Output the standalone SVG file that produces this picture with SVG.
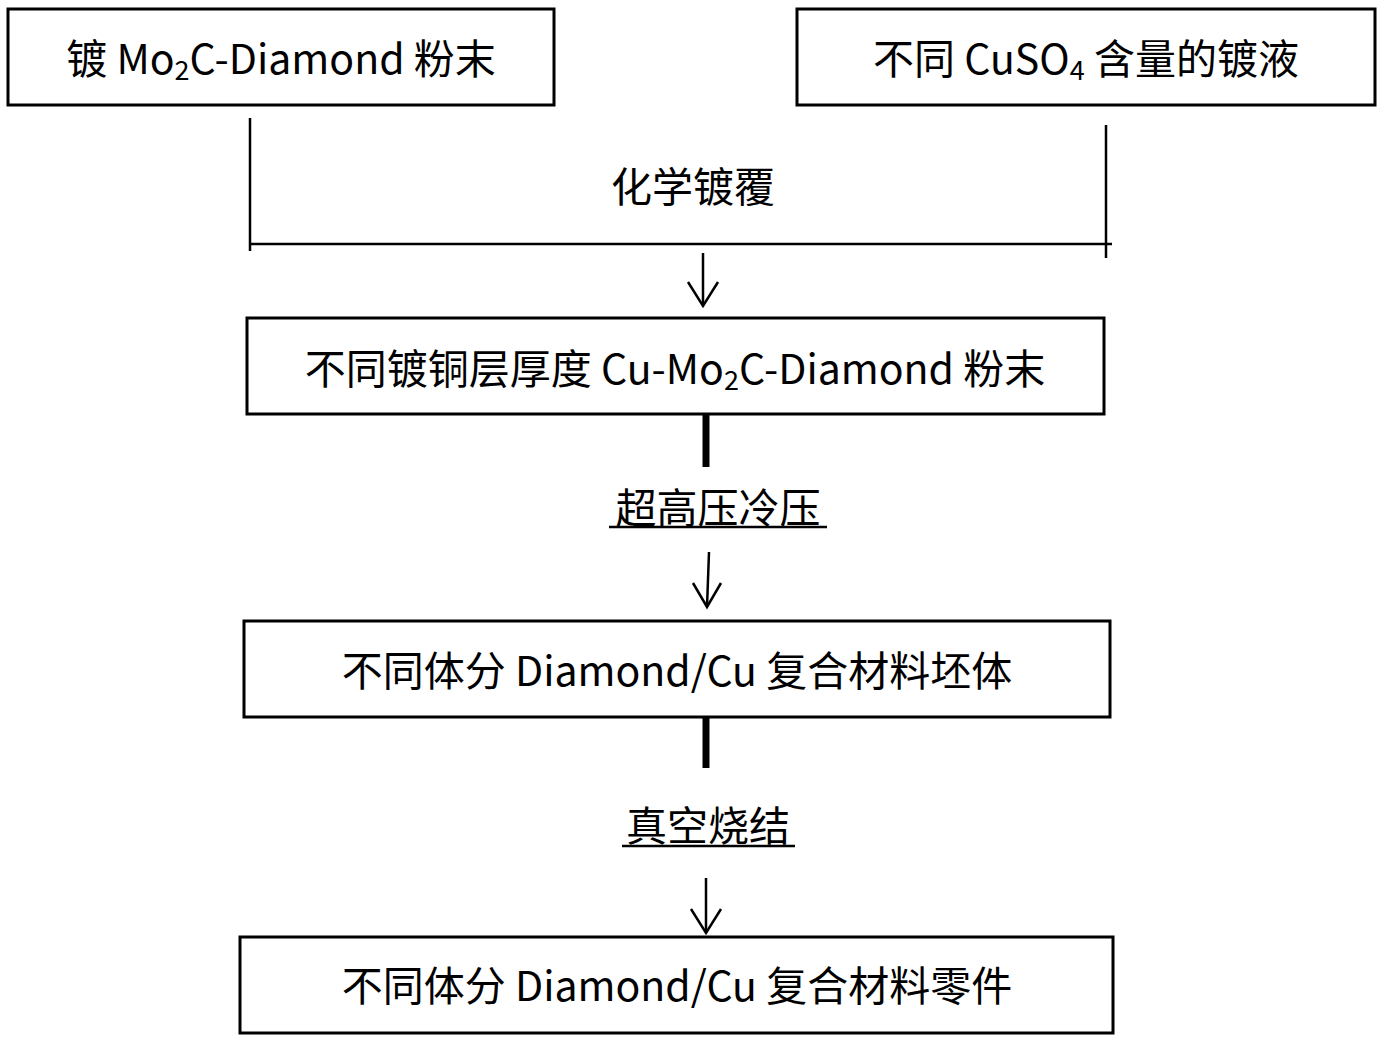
<svg xmlns="http://www.w3.org/2000/svg" width="1386" height="1045" viewBox="0 0 1386 1045">
<style>
.b{fill:#fff;stroke:#000;stroke-width:3}
.t{font-family:"Noto Sans CJK SC","Liberation Sans",sans-serif;font-size:41px;fill:#000;text-anchor:middle}
.l{stroke:#000;stroke-width:2.5;fill:none}
.k{stroke:#000;stroke-width:7}
.a{stroke:#000;stroke-width:2.5;fill:none}
</style>
<rect width="1386" height="1045" fill="#fff"/>
<g id="n1"><rect class="b" x="8" y="9" width="546" height="96"/><text class="t" x="281" y="74">镀 Mo<tspan font-size="27" dy="6">2</tspan><tspan dy="-6">C-Diamond 粉末</tspan></text></g>
<g id="n2"><rect class="b" x="797" y="9" width="578" height="96"/><text class="t" x="1086" y="74">不同 CuSO<tspan font-size="27" dy="6">4</tspan><tspan dy="-6"> 含量的镀液</tspan></text></g>
<g id="n3"><rect class="b" x="247" y="318" width="857" height="96"/><text class="t" x="675" y="384">不同镀铜层厚度 Cu-Mo<tspan font-size="27" dy="6">2</tspan><tspan dy="-6">C-Diamond 粉末</tspan></text></g>
<g id="n4"><rect class="b" x="244" y="621" width="866" height="96"/><text class="t" x="677" y="686">不同体分 Diamond/Cu 复合材料坯体</text></g>
<g id="n5"><rect class="b" x="240" y="937" width="873" height="96"/><text class="t" x="677" y="1001">不同体分 Diamond/Cu 复合材料零件</text></g>
<g id="connectors">
<line class="l" x1="250" y1="118" x2="250" y2="251"/>
<line class="l" x1="1106" y1="125" x2="1106" y2="258"/>
<line class="l" x1="250" y1="244" x2="1112" y2="244"/>
<text class="t" x="693" y="202">化学镀覆</text>
<line class="a" x1="703" y1="253" x2="703" y2="306"/><polyline class="a" points="688,282 703,306 718,282"/>
<line class="k" x1="706" y1="414" x2="706" y2="467"/>
<text class="t" x="718" y="523">超高压冷压</text><line class="l" x1="609" y1="527" x2="827" y2="527" stroke-width="2"/>
<line class="a" x1="709" y1="552" x2="707" y2="607"/><polyline class="a" points="693,583 707,607 721,583"/>
<line class="k" x1="706" y1="717" x2="706" y2="768"/>
<text class="t" x="708" y="841">真空烧结</text><line class="l" x1="622" y1="846" x2="795" y2="846" stroke-width="2"/>
<line class="a" x1="706" y1="878" x2="706" y2="933"/><polyline class="a" points="691,909 706,933 721,909"/>
</g>
</svg>
